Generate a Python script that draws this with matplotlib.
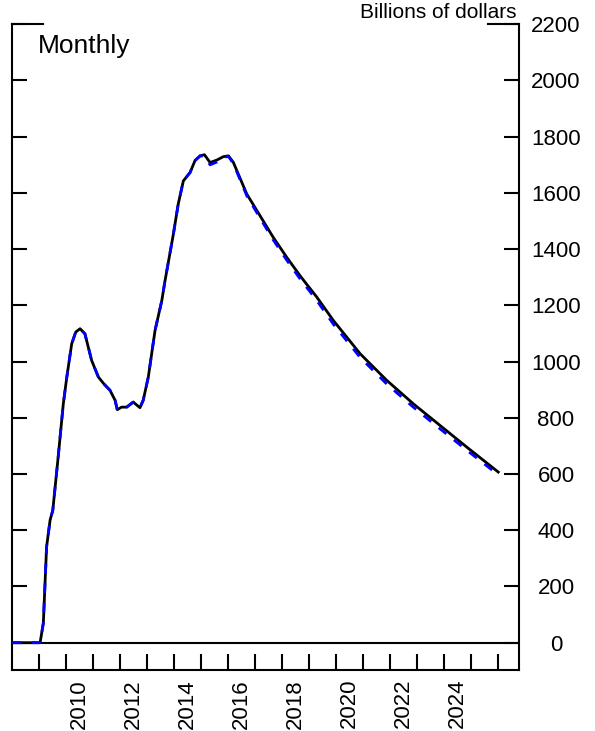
import numpy as np
import matplotlib
matplotlib.use("Agg")
from matplotlib import pyplot as plt

plt.rcParams['font.family'] = ['Liberation Sans', 'DejaVu Sans']

# decimal years and values (billions of dollars)
years = [2008.00, 2009.03, 2009.15, 2009.27, 2009.40, 2009.50, 2009.70, 2009.89,
         2010.02, 2010.20, 2010.35, 2010.51, 2010.69, 2010.94, 2011.19, 2011.40,
         2011.62, 2011.81, 2011.89, 2012.05, 2012.24, 2012.48, 2012.73, 2012.85,
         2013.04, 2013.29, 2013.54, 2013.66, 2013.97, 2014.15, 2014.34, 2014.59,
         2014.77, 2014.96, 2015.12, 2015.33, 2015.58, 2015.82, 2016.01, 2016.19,
         2016.69, 2017.18, 2017.67, 2018.17, 2018.66, 2018.91, 2019.28, 2019.90,
         2020.89, 2021.88, 2022.86, 2023.85, 2024.84, 2026.01]
actual = [0, 0, 70, 341, 436, 471, 661, 850,
          945, 1063, 1105, 1117, 1099, 1004, 945, 920,
          898, 862, 829, 838, 838, 856, 836, 862,
          945, 1111, 1217, 1288, 1454, 1561, 1643, 1673,
          1715, 1732, 1736, 1708, 1717, 1729, 1732, 1709,
          1596, 1519, 1442, 1371, 1306, 1275, 1230, 1146,
          1028, 933, 850, 773, 696, 607]
projected = [0, 0, 70, 341, 436, 471, 661, 850,
             945, 1063, 1105, 1117, 1099, 1004, 945, 920,
             898, 862, 829, 838, 838, 856, 836, 862,
             945, 1111, 1217, 1288, 1454, 1561, 1643, 1673,
             1715, 1732, 1730, 1700, 1710, 1726, 1730, 1705,
             1590, 1511, 1433, 1361, 1295, 1264, 1218, 1133,
             1015, 920, 838, 761, 685, 597]

major_years = list(range(2009, 2027))
label_years = [2010, 2012, 2014, 2016, 2018, 2020, 2022, 2024]
y_ticks = list(range(0, 2201, 200))

fig = plt.figure(figsize=(5.95, 7.31), dpi=100)
ax = fig.add_axes([0.0207, 0.0835, 0.8521, 0.8833])

ax.axhline(0, color='black', lw=1.5, zorder=1)
ax.plot(years, actual, color='black', lw=2.0, zorder=2)
ax.plot(years, projected, color='blue', lw=2.0, linestyle=(0, (3.5, 3.5)), zorder=3)

ax.set_xlim(2008.0, 2026.79)
ax.set_ylim(-97, 2200)

for side in ['left', 'right', 'bottom']:
    ax.spines[side].set_linewidth(1.5)
ax.spines['top'].set_visible(False)
# short top pieces at both corners
ax.plot([0, 0.0605], [1, 1], transform=ax.transAxes, color='black', lw=1.5, clip_on=False)
ax.plot([0.938, 1], [1, 1], transform=ax.transAxes, color='black', lw=1.5, clip_on=False)

ax.set_yticks(y_ticks)
ax.set_yticklabels([str(v) for v in y_ticks])
ax.tick_params(axis='y', which='major', direction='in', length=10.8, width=1.5,
               left=True, right=True, labelleft=False, labelright=True,
               labelsize=16, pad=26.4)
plt.setp(ax.get_yticklabels(), ha='center')

ax.set_xticks(major_years)
ax.set_xticklabels([])
ax.set_xticks([y + 0.5 for y in label_years], minor=True)
ax.set_xticklabels([str(y) for y in label_years], minor=True, rotation=90)
ax.tick_params(axis='x', which='major', direction='in', length=11.5, width=1.5)
ax.tick_params(axis='x', which='minor', length=0, labelsize=16, pad=6.5)

fig.text(38 / 595, 1 - 53.3 / 731, 'Monthly', fontsize=19, va='baseline', ha='left')
fig.text(516.7 / 595, 1 - 18.3 / 731, 'Billions of dollars', fontsize=15,
         va='baseline', ha='right')

fig.savefig('out.png', dpi=100)
